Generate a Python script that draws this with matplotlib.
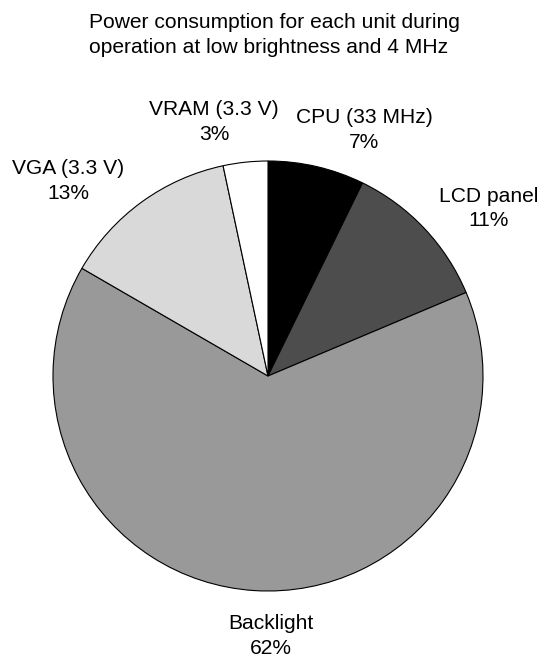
import matplotlib
matplotlib.use('Agg')
import matplotlib.pyplot as plt

units = ['CPU (33 MHz)', 'LCD panel', 'Backlight', 'VGA (3.3 V)', 'VRAM (3.3 V)']
shares = [7.25, 11.4, 64.7, 13.3, 3.35]
pct_labels = ['7%', '11%', '62%', '13%', '3%']
colors = ['#000000', '#4d4d4d', '#999999', '#d9d9d9', '#ffffff']

title = 'Power consumption for each unit during\noperation at low brightness and 4 MHz'

# label centres in pie radii (layout)
label_xy = [(0.447, 1.144), (1.028, 0.779), (0.014, -1.209),
            (-0.930, 0.907), (-0.251, 1.181)]

plt.rcParams['font.family'] = ['Liberation Sans', 'DejaVu Sans']
fontsize = 15.1
spacing = 1.38

W, H = 541, 657
cx, cy, r = 268, 376, 215

fig = plt.figure(figsize=(W / 100, H / 100), dpi=100)
ax = fig.add_axes([(cx - r) / W, (H - cy - r) / H, 2 * r / W, 2 * r / H])

labels = [u + '\n' + p for u, p in zip(units, pct_labels)]
wedges, texts = ax.pie(shares, labels=labels, colors=colors, startangle=90,
                       counterclock=False, radius=1,
                       wedgeprops={'edgecolor': 'black', 'linewidth': 0.8})
for t, (x, y) in zip(texts, label_xy):
    t.set_position((x, y))
    t.set_ha('center')
    t.set_va('center')
    t.set_fontsize(fontsize)
    t.set_linespacing(spacing)
    t.set_clip_on(False)

ax.set_xlim(-1, 1)
ax.set_ylim(-1, 1)
ax.set_aspect('equal')
ax.axis('off')

fig.text(89 / W, 1 - 35 / H, title, ha='left', va='center',
         fontsize=fontsize, linespacing=spacing)

fig.savefig('out.png', dpi=100, facecolor='white')
plt.close()
